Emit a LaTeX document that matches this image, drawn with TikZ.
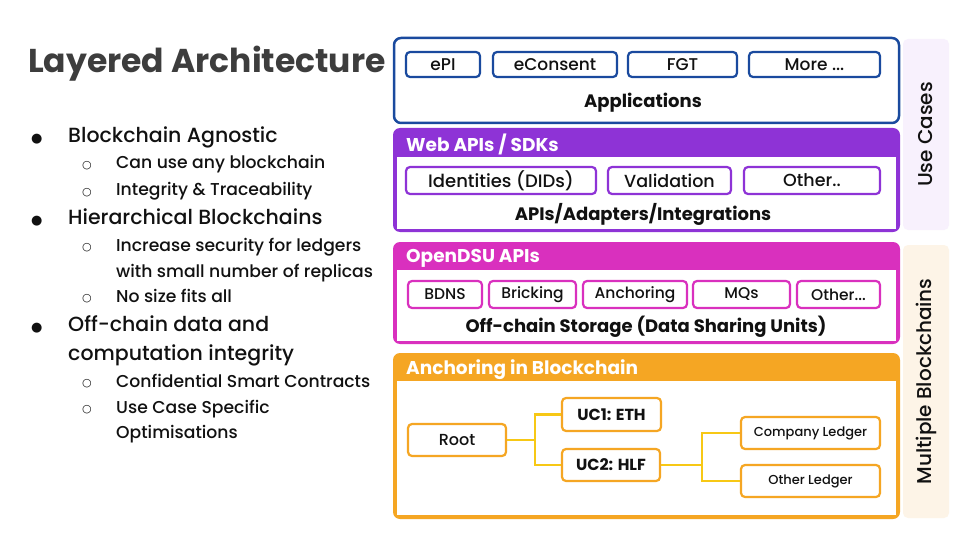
\documentclass[tikz,border=0pt]{standalone}
\usepackage{fontspec}
\setmainfont{Poppins}[UprightFont={* Medium}, BoldFont={* Bold}]
\newfontfamily\symfont{DejaVu Sans}
\definecolor{appblue}{HTML}{1A4A9E}
\definecolor{webpurple}{HTML}{8E33D6}
\definecolor{dsumag}{HTML}{D930BE}
\definecolor{anchorange}{HTML}{F5A623}
\definecolor{connyellow}{HTML}{F7C815}
\definecolor{usefill}{HTML}{F8F1FD}
\definecolor{multifill}{HTML}{FDF4E7}
\definecolor{titlegray}{HTML}{3D3D3D}
\definecolor{ink}{HTML}{111111}
\newcommand{\fsz}[1]{\fontsize{#1}{#1}\selectfont}
\begin{document}
\begin{tikzpicture}[x=1pt,y=-1pt,
  chip/.style={draw=#1, line width=2.2pt, rounded corners=4pt, fill=white, inner sep=0pt, text=ink},
  band/.style={fill=#1, rounded corners=7pt, inner sep=0pt},
  headtxt/.style={anchor=west, inner sep=0pt, text=white, font=\bfseries\fsz{18.5}},
  caption/.style={text=ink, font=\bfseries\fsz{18}},
  conn/.style={draw=connyellow, line width=2.2pt},
  side/.style={fill=#1, rounded corners=5pt, inner sep=0pt, minimum width=46pt},
  sidetxt/.style={rotate=90, text=ink, font=\fsz{20}},
  lone/.style={anchor=base west, inner sep=0pt, text=ink, font=\fsz{20.5}},
  ltwo/.style={anchor=base west, inner sep=0pt, text=ink, font=\fsz{17.2}},
  bone/.style={anchor=base west, inner sep=0pt, text=ink, font=\symfont\fsz{13}},
  btwo/.style={anchor=base west, inner sep=0pt, text=ink, font=\symfont\fsz{11}}
]
\useasboundingbox (0,0) rectangle (960,540);
\fill[white] (0,0) rectangle (960,540);

% ---------- left text ----------
\node[anchor=base west, inner sep=0pt, text=titlegray, font=\bfseries\fsz{33}] (title) at (28,73) {Layered Architecture};

\node[bone] (b1) at (31,143) {●};
\node[lone] (t1) at (68,143) {Blockchain Agnostic};
\node[btwo] (b11) at (82,168) {○};
\node[ltwo] (t11) at (116,169) {Can use any blockchain};
\node[btwo] (b12) at (82,195) {○};
\node[ltwo] (t12) at (116,196) {Integrity \& Traceability};
\node[bone] (b2) at (31,224) {●};
\node[lone] (t2) at (68,224) {Hierarchical Blockchains};
\node[btwo] (b21) at (82,250) {○};
\node[ltwo] (t21) at (116,251) {Increase security for ledgers};
\node[ltwo] (t21b) at (116,277) {with small number of replicas};
\node[btwo] (b22) at (82,301) {○};
\node[ltwo] (t22) at (116,302) {No size fits all};
\node[bone] (b3) at (31,331) {●};
\node[lone] (t3) at (68,331) {Off-chain data and};
\node[lone] (t3b) at (68,360) {computation integrity};
\node[btwo] (b31) at (82,386) {○};
\node[ltwo] (t31) at (116,387) {Confidential Smart Contracts};
\node[btwo] (b32) at (82,412) {○};
\node[ltwo] (t32) at (116,413) {Use Case Specific};
\node[ltwo] (t32b) at (116,438) {Optimisations};

% ---------- side panels ----------
\node[side=usefill, minimum height=191pt] (usecases) at (926,134.5) {};
\node[sidetxt] (uctxt) at (usecases.center) {Use Cases};
\node[side=multifill, minimum height=273pt] (multi) at (926,381.5) {};
\node[sidetxt] (mbtxt) at (multi.center) {Multiple Blockchains};

% ---------- Applications ----------
\node[draw=appblue, line width=2.5pt, rounded corners=7pt, fill=white, minimum width=505pt, minimum height=85pt, inner sep=0pt] (apps) at (646.5,80.5) {};
\node[chip=appblue, minimum width=74pt, minimum height=25pt, font=\fsz{17}] (epi) at (443,64.5) {ePI};
\node[chip=appblue, minimum width=124pt, minimum height=25pt, font=\fsz{17}] (econsent) at (555,64.5) {eConsent};
\node[chip=appblue, minimum width=109pt, minimum height=25pt, font=\fsz{17}] (fgt) at (682.5,64.5) {FGT};
\node[chip=appblue, minimum width=131pt, minimum height=25pt, font=\fsz{17}] (more) at (814.5,64.5) {More ...};
\node[caption] (appcap) at (643,102.5) {Applications};

% ---------- Web APIs ----------
\node[band=webpurple, minimum width=507pt, minimum height=104pt] (web) at (646.5,180) {};
\fill[white] (397,157) rectangle (896,229);
\node[headtxt] (webh) at (406,144) {Web APIs / SDKs};
\node[chip=webpurple, minimum width=190pt, minimum height=27pt, font=\fsz{18}] (ids) at (501,180.5) {Identities (DIDs)};
\node[chip=webpurple, minimum width=123pt, minimum height=27pt, font=\fsz{17.5}] (valid) at (669.5,180.5) {Validation};
\node[chip=webpurple, minimum width=136pt, minimum height=27pt, font=\fsz{17.5}] (webother) at (812,180.5) {Other..};
\node[caption] (webcap) at (643,214) {APIs/Adapters/Integrations};

% ---------- OpenDSU ----------
\node[band=dsumag, minimum width=507pt, minimum height=102pt] (dsu) at (646.5,293) {};
\fill[white] (397,270) rectangle (896,341);
\node[headtxt] (dsuh) at (406,258.5) {OpenDSU APIs};
\node[chip=dsumag, minimum width=74pt, minimum height=27pt, font=\fsz{15.5}] (bdns) at (445,294.5) {BDNS};
\node[chip=dsumag, minimum width=87pt, minimum height=27pt, font=\fsz{15.5}] (brick) at (532.5,294.5) {Bricking};
\node[chip=dsumag, minimum width=104pt, minimum height=27pt, font=\fsz{15.5}] (anch) at (635,294.5) {Anchoring};
\node[chip=dsumag, minimum width=97pt, minimum height=27pt, font=\fsz{15.5}] (mqs) at (741.5,294.5) {MQs};
\node[chip=dsumag, minimum width=83pt, minimum height=27pt, font=\fsz{15.5}] (dsuother) at (838.5,294.5) {Other...};
\node[caption] (dsucap) at (646,326.5) {Off-chain Storage (Data Sharing Units)};

% ---------- Anchoring in Blockchain ----------
\node[band=anchorange, minimum width=507pt, minimum height=166pt] (anc) at (646.5,436) {};
\fill[white] (397,381) rectangle (896,515);
\node[headtxt] (anch-h) at (406,369.5) {Anchoring in Blockchain};
\node[chip=anchorange, minimum width=98pt, minimum height=32pt, font=\fsz{16}] (root) at (457,440) {Root};
\node[chip=anchorange, minimum width=99pt, minimum height=33pt, font=\bfseries\fsz{16}] (uc1) at (611.5,414.5) {UC1: ETH};
\node[chip=anchorange, minimum width=98pt, minimum height=32pt, font=\bfseries\fsz{16}] (uc2) at (611,465) {UC2: HLF};
\node[chip=anchorange, minimum width=139pt, minimum height=32pt, font=\fsz{13}] (company) at (810.5,433) {Company Ledger};
\node[chip=anchorange, minimum width=139pt, minimum height=32pt, font=\fsz{13}] (otherl) at (810.5,481) {Other Ledger};
\coordinate (j1) at ([xshift=28pt]root.east);
\coordinate (j2) at ([xshift=41pt]uc2.east);
\draw[conn] (root.east) -- (j1);
\draw[conn] (uc1.west) -| (j1) |- (uc2.west);
\draw[conn] (uc2.east) -- (j2);
\draw[conn] (company.west) -| (j2) |- (otherl.west);
\end{tikzpicture}
\end{document}
